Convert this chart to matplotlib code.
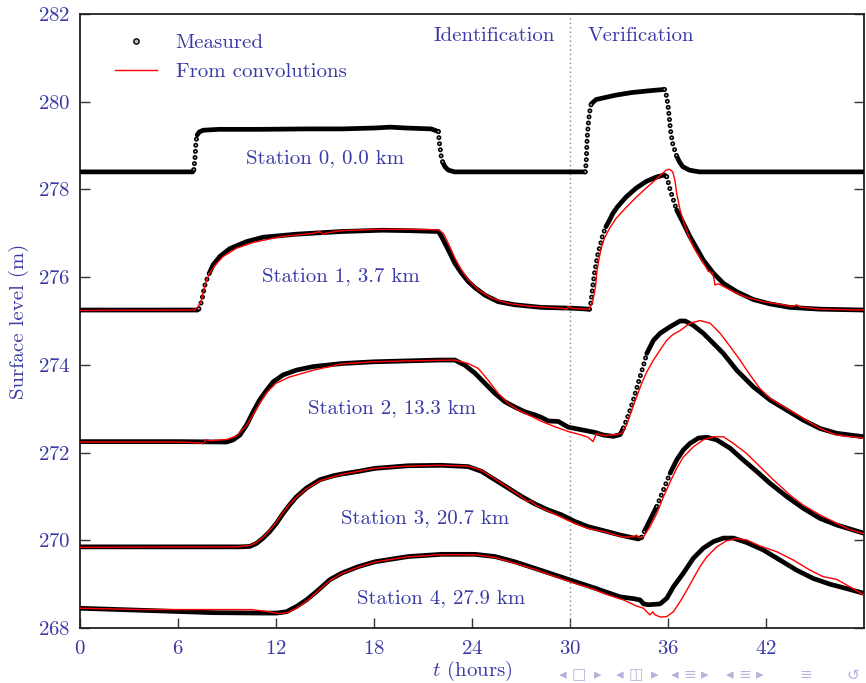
import numpy as np
import matplotlib
matplotlib.use("Agg")
import matplotlib.pyplot as plt
from matplotlib.lines import Line2D

plt.rcParams['font.family'] = ['cmr10', 'DejaVu Sans']
plt.rcParams['mathtext.fontset'] = 'cm'
plt.rcParams['axes.unicode_minus'] = False
plt.rcParams['axes.formatter.use_mathtext'] = True
plt.rcParams['lines.scale_dashes'] = False

BLUE = '#3a3aa6'
STEEP = 0.8  # m/h, above this the measured samples show as separate dots

# (time in hours, surface level in m)
station0_meas = [(0, 278.40), (6.90, 278.40), (6.97, 278.45), (7.05, 278.76), (7.10, 279.08),
                 (7.17, 279.24), (7.30, 279.31), (7.55, 279.35), (8.5, 279.37), (11, 279.37),
                 (14, 279.38), (16, 279.38), (18, 279.40), (19, 279.42), (20, 279.40), (21.5, 279.38),
                 (21.94, 279.32), (22.0, 279.07), (22.08, 278.86), (22.12, 278.73), (22.2, 278.63),
                 (22.34, 278.52), (22.55, 278.44), (22.95, 278.40), (24, 278.40), (30.93, 278.40),
                 (30.99, 278.60), (31.05, 279.18), (31.15, 279.61), (31.24, 279.85), (31.3, 279.95),
                 (31.6, 280.05), (32.8, 280.15), (33.8, 280.21), (34.86, 280.25), (35.78, 280.28),
                 (35.88, 280.18), (36.0, 279.92), (36.09, 279.60), (36.15, 279.36), (36.23, 279.17),
                 (36.29, 279.04), (36.39, 278.92), (36.53, 278.76), (36.7, 278.63), (36.9, 278.52),
                 (37.31, 278.44), (37.92, 278.40), (48, 278.40)]

station1_meas = [(0, 275.25), (7.20, 275.25), (7.28, 275.28), (7.44, 275.44), (7.54, 275.63),
                 (7.65, 275.82), (7.79, 275.97), (7.95, 276.12), (8.15, 276.28), (8.56, 276.47),
                 (9.17, 276.65), (10.2, 276.81), (11.21, 276.91), (13.25, 276.98), (16.0, 277.04),
                 (18.5, 277.07), (20.1, 277.06), (21.94, 277.04), (22.14, 276.92), (22.55, 276.62),
                 (22.96, 276.31), (23.36, 276.09), (23.77, 275.90), (24.18, 275.76), (24.79, 275.59),
                 (25.6, 275.44), (26.62, 275.37), (28.26, 275.31), (30.29, 275.29), (31.11, 275.27),
                 (31.19, 275.27), (31.29, 275.44), (31.39, 275.78), (31.5, 276.09), (31.6, 276.31),
                 (31.7, 276.51), (31.8, 276.66), (31.91, 276.81), (32.0, 276.96), (32.2, 277.15),
                 (32.42, 277.30), (32.62, 277.45), (32.92, 277.61), (33.44, 277.83), (34.05, 278.03),
                 (34.66, 278.18), (35.27, 278.28), (35.78, 278.33), (35.92, 278.29), (36.03, 278.14),
                 (36.13, 277.99), (36.33, 277.76), (36.53, 277.53), (36.94, 277.23), (37.35, 276.92),
                 (37.75, 276.66), (38.16, 276.39), (38.78, 276.09), (39.39, 275.86), (40.2, 275.67),
                 (41.22, 275.49), (42.24, 275.39), (43.46, 275.31), (45.3, 275.27), (48, 275.25)]

station1_conv = [(0, 275.24), (7.03, 275.25), (7.24, 275.33), (7.44, 275.48), (7.58, 275.70),
                 (7.75, 275.94), (8.05, 276.16), (8.36, 276.31), (8.76, 276.47), (9.58, 276.66),
                 (10.6, 276.79), (12.23, 276.92), (14.27, 277.0), (14.68, 277.04), (14.88, 276.98),
                 (15.09, 277.01), (16.02, 277.06), (18.06, 277.09), (20.1, 277.09), (21.94, 277.08),
                 (22.24, 277.00), (22.55, 276.77), (22.96, 276.43), (23.36, 276.16), (23.77, 275.94),
                 (24.38, 275.71), (25.2, 275.52), (26.22, 275.40), (27.44, 275.34), (28.67, 275.31),
                 (29.48, 275.29), (29.79, 275.27), (29.89, 275.33), (30.09, 275.29), (31.11, 275.27),
                 (31.19, 275.28), (31.39, 275.44), (31.56, 275.78), (31.66, 276.16), (31.76, 276.39),
                 (31.91, 276.66), (32.11, 276.89), (32.42, 277.11), (32.82, 277.34), (33.44, 277.59),
                 (34.05, 277.82), (34.66, 278.03), (35.27, 278.23), (35.68, 278.37), (35.88, 278.44),
                 (36.09, 278.46), (36.29, 278.40), (36.43, 278.20), (36.53, 277.91), (36.74, 277.53),
                 (37.05, 277.15), (37.35, 276.85), (37.66, 276.62), (37.97, 276.43), (38.27, 276.26),
                 (38.47, 276.13), (38.67, 276.11), (38.78, 276.02), (38.88, 275.82), (39.08, 275.85),
                 (39.39, 275.79), (40.0, 275.67), (40.81, 275.54), (41.83, 275.44), (43.06, 275.37),
                 (43.56, 275.33), (43.77, 275.35), (43.87, 275.37), (44.07, 275.32), (45.3, 275.27),
                 (48, 275.25)]

station2_meas = [(0, 272.25), (6.12, 272.25), (8.97, 272.24), (9.38, 272.29), (9.79, 272.40),
                 (10.2, 272.63), (10.6, 272.93), (11.0, 273.20), (11.42, 273.42), (11.82, 273.61),
                 (12.43, 273.77), (13.25, 273.88), (14.27, 273.96), (16.02, 274.03), (18, 274.07),
                 (20, 274.09), (22.0, 274.11), (22.95, 274.11), (23.57, 273.99), (24.18, 273.81),
                 (24.79, 273.58), (25.4, 273.35), (26.01, 273.16), (26.62, 273.04), (27.23, 272.93),
                 (27.85, 272.86), (28.26, 272.80), (28.67, 272.72), (29.28, 272.71), (29.89, 272.58),
                 (30.7, 272.52), (31.52, 272.46), (32.05, 272.40), (32.66, 272.37), (33.07, 272.41),
                 (33.27, 272.56), (33.47, 272.75), (33.68, 272.97), (33.88, 273.20), (34.08, 273.46),
                 (34.29, 273.73), (34.5, 273.99), (34.7, 274.26), (35.11, 274.56), (35.52, 274.72),
                 (36.13, 274.87), (36.74, 275.0), (37.05, 275.0), (37.55, 274.90), (38.16, 274.72),
                 (38.78, 274.49), (39.39, 274.26), (40.2, 273.88), (41.22, 273.50), (42.24, 273.20),
                 (43.26, 272.97), (44.28, 272.74), (45.3, 272.55), (46.32, 272.44), (48, 272.36)]

station2_conv = [(0, 272.24), (6.1, 272.24), (7.4, 272.22), (7.55, 272.20), (7.7, 272.29),
                 (8.0, 272.27), (9.0, 272.30), (9.6, 272.38), (10.2, 272.62), (10.8, 273.0),
                 (11.4, 273.36), (12.0, 273.58), (12.8, 273.72), (14.3, 273.88), (16.0, 274.02),
                 (18.0, 274.07), (20.0, 274.09), (22.95, 274.11), (23.77, 274.03), (24.38, 273.92),
                 (24.99, 273.65), (25.6, 273.35), (26.22, 273.12), (26.83, 272.97), (27.44, 272.86),
                 (28.26, 272.71), (29.07, 272.59), (29.89, 272.48), (30.7, 272.40), (31.11, 272.35),
                 (31.41, 272.25), (31.61, 272.43), (32.05, 272.39), (32.86, 272.41), (33.17, 272.44),
                 (33.47, 272.63), (33.78, 272.97), (34.08, 273.27), (34.39, 273.58), (34.7, 273.84),
                 (35.11, 274.11), (35.52, 274.34), (35.92, 274.56), (36.23, 274.67), (36.43, 274.72),
                 (36.74, 274.78), (37.35, 274.95), (37.96, 275.01), (38.58, 274.95), (39.19, 274.72),
                 (39.8, 274.42), (40.41, 274.11), (41.02, 273.77), (41.63, 273.46), (42.24, 273.24),
                 (43.06, 273.05), (44.28, 272.78), (45.3, 272.55), (46.32, 272.40), (48, 272.33)]

station3_meas = [(0, 269.85), (9.79, 269.85), (10.4, 269.86), (10.81, 269.93), (11.21, 270.05),
                 (11.62, 270.20), (12.03, 270.39), (12.43, 270.61), (12.84, 270.81), (13.25, 270.99),
                 (13.86, 271.19), (14.68, 271.38), (15.5, 271.47), (16.02, 271.51), (17.04, 271.57),
                 (18.06, 271.64), (20.1, 271.70), (22.14, 271.71), (23.77, 271.68), (24.59, 271.57),
                 (25.4, 271.38), (26.22, 271.19), (27.03, 271.0), (27.85, 270.83), (28.67, 270.69),
                 (29.48, 270.58), (30.29, 270.43), (31.11, 270.31), (32.05, 270.22), (33.07, 270.12),
                 (33.68, 270.07), (34.19, 270.03), (34.39, 270.07), (34.6, 270.24), (34.91, 270.47),
                 (35.31, 270.77), (35.72, 271.15), (36.13, 271.53), (36.53, 271.83), (36.94, 272.06),
                 (37.35, 272.21), (37.86, 272.33), (38.37, 272.35), (38.98, 272.29), (39.8, 272.10),
                 (40.61, 271.83), (41.43, 271.57), (42.24, 271.30), (43.26, 271.0), (44.28, 270.73),
                 (45.3, 270.50), (46.32, 270.35), (48, 270.16)]

station3_conv = [(0, 269.84), (9.5, 269.85), (10.4, 269.88), (10.8, 269.95), (11.2, 270.07),
                 (11.6, 270.22), (12.0, 270.40), (12.4, 270.62), (12.8, 270.81), (13.3, 271.0),
                 (13.9, 271.18), (14.7, 271.36), (16.0, 271.50), (17.0, 271.57), (18.0, 271.64),
                 (20.0, 271.69), (22.0, 271.71), (23.8, 271.69), (24.6, 271.59), (25.4, 271.40),
                 (26.2, 271.20), (27.0, 271.0), (27.4, 270.88), (27.6, 270.90), (27.9, 270.80),
                 (28.7, 270.66), (29.5, 270.52), (30.3, 270.38), (31.1, 270.27), (32.05, 270.20),
                 (33.27, 270.07), (33.88, 270.08), (34.08, 270.12), (34.25, 270.05), (34.5, 270.08),
                 (34.9, 270.31), (35.31, 270.61), (35.72, 270.99), (36.13, 271.33), (36.53, 271.64),
                 (36.94, 271.90), (37.55, 272.13), (38.16, 272.29), (38.78, 272.36), (39.39, 272.36),
                 (40.0, 272.21), (40.81, 271.98), (41.63, 271.68), (42.45, 271.38), (43.47, 271.03),
                 (44.28, 270.80), (45.3, 270.58), (46.32, 270.39), (47.14, 270.24), (48, 270.15)]

station4_meas = [(0, 268.45), (4.08, 268.40), (8.15, 268.35), (11.21, 268.34), (12.03, 268.34),
                 (12.64, 268.37), (13.25, 268.49), (13.86, 268.64), (14.48, 268.83), (15.29, 269.10),
                 (16.02, 269.25), (17.04, 269.40), (18.06, 269.51), (20.1, 269.63), (22.14, 269.68),
                 (24.18, 269.68), (25.4, 269.63), (26.62, 269.51), (27.85, 269.36), (29.07, 269.21),
                 (30.29, 269.06), (31.52, 268.91), (32.05, 268.84), (33.07, 268.71), (33.88, 268.67),
                 (34.29, 268.64), (34.5, 268.55), (34.8, 268.53), (35.52, 268.55), (35.93, 268.68),
                 (36.33, 268.94), (36.94, 269.25), (37.55, 269.59), (38.16, 269.82), (38.78, 269.97),
                 (39.39, 270.05), (40.0, 270.05), (40.81, 269.95), (41.83, 269.78), (42.85, 269.55),
                 (43.87, 269.32), (44.89, 269.13), (45.91, 269.0), (46.93, 268.90), (48, 268.79)]

station4_conv = [(0, 268.45), (4.0, 268.42), (8.0, 268.42), (10.5, 268.42), (11.4, 268.38),
                 (12.2, 268.33), (12.7, 268.35), (13.3, 268.46), (13.9, 268.62), (14.5, 268.82),
                 (15.3, 269.08), (16.0, 269.24), (17.0, 269.38), (18.0, 269.50), (20.0, 269.62),
                 (22.0, 269.67), (24.2, 269.67), (25.4, 269.61), (26.6, 269.48), (27.9, 269.33),
                 (29.1, 269.17), (30.3, 269.02), (31.5, 268.88), (32.05, 268.79), (33.27, 268.64),
                 (34.08, 268.50), (34.5, 268.45), (34.7, 268.37), (34.9, 268.30), (35.06, 268.37),
                 (35.21, 268.30), (35.52, 268.25), (35.92, 268.26), (36.33, 268.37), (36.74, 268.60),
                 (37.15, 268.86), (37.55, 269.13), (37.96, 269.40), (38.37, 269.62), (38.98, 269.85),
                 (39.59, 269.99), (40.2, 270.04), (40.81, 270.01), (41.63, 269.87), (42.65, 269.74),
                 (43.67, 269.55), (44.69, 269.32), (45.5, 269.17), (46.32, 269.11), (47.14, 268.94),
                 (48, 268.75)]

measured = [station0_meas, station1_meas, station2_meas, station3_meas, station4_meas]
convolved = [station1_conv, station2_conv, station3_conv, station4_conv]

station_labels = ["Station 0, 0.0 km", "Station 1, 3.7 km", "Station 2, 13.3 km",
                  "Station 3, 20.7 km", "Station 4, 27.9 km"]
label_pos = [(15.0, 278.72), (16.0, 276.03), (19.1, 273.02), (21.1, 270.51), (22.1, 268.69)]

t_split = 30
x_ticks = [0, 6, 12, 18, 24, 30, 36, 42]
y_ticks = [268, 270, 272, 274, 276, 278, 280, 282]

# beamer navigation symbols, (pixel x, glyph)
nav_symbols = [(563, "◂"), (579, "□"), (598, "▸"), (620, "◂"), (636, "◫"), (655, "▸"),
               (675, "◂"), (690, "≡"), (705, "▸"), (730, "◂"), (745, "≡"), (760, "▸"),
               (806, "≡"), (853, "↺")]


def draw_measured(ax, pts):
    t, y = np.array(pts).T
    steep = np.abs(np.diff(y) / np.diff(t)) > STEEP
    start = 0
    for i in range(1, len(steep) + 1):
        if i == len(steep) or steep[i] != steep[start]:
            tt, yy = t[start:i + 1], y[start:i + 1]
            if steep[start]:
                ax.plot(tt, yy, color='black', lw=3.6, ls=(0, (0.01, 4.4)),
                        dash_capstyle='round', zorder=3)
                ax.plot(tt, yy, color='#bdbdbd', lw=1.3, ls=(0, (0.01, 4.4)),
                        dash_capstyle='round', zorder=3.1)
            else:
                ax.plot(tt, yy, color='black', lw=3.4, solid_capstyle='round',
                        solid_joinstyle='round', zorder=3)
            start = i


fig = plt.figure(figsize=(8.66, 6.83), dpi=100)
ax = fig.add_axes([80 / 866, 1 - 628 / 683, 784 / 866, 614 / 683])

for pts in measured:
    draw_measured(ax, pts)
for pts in convolved:
    t, y = np.array(pts).T
    ax.plot(t, y, color='#ff0000', lw=1.0, zorder=4)

ax.axvline(t_split, color='#8c8c8c', lw=1.0, ls=(0, (1, 2.2)), zorder=2)

for txt, (x, y) in zip(station_labels, label_pos):
    ax.text(x, y, txt, ha='center', va='center', fontsize=15, color=BLUE)
ax.text(29.05, 281.5, "Identification", ha='right', va='center', fontsize=15, color=BLUE)
ax.text(31.1, 281.5, "Verification", ha='left', va='center', fontsize=15, color=BLUE)

ax.set_xlim(0, 48)
ax.set_ylim(268, 282)
ax.set_xticks(x_ticks)
ax.set_yticks(y_ticks)
ax.tick_params(direction='in', length=7, width=1, right=True, top=False,
               labelsize=15, labelcolor=BLUE, color='#333333')
ax.tick_params(axis='y', pad=7)
ax.tick_params(axis='x', pad=9)
for s in ax.spines.values():
    s.set_linewidth(1.3)
    s.set_color('#222222')

ax.set_xlabel("$t$ (hours)", fontsize=15, color=BLUE, labelpad=0.5)
ax.set_ylabel("Surface level (m)", fontsize=15, color=BLUE, labelpad=6)

handles = [Line2D([], [], marker='o', ls='none', mfc='#bdbdbd', mec='black', ms=3.8, mew=1.0),
           Line2D([], [], color='#ff0000', lw=1.0)]
ax.legend(handles, ["Measured", "From convolutions"], loc='upper left', frameon=False,
          fontsize=15, labelcolor=BLUE, handlelength=2.0, handletextpad=0.9,
          labelspacing=0.5, borderpad=0.4, borderaxespad=0.0,
          bbox_to_anchor=(27 / 784, 1 - 11 / 614))

for px, glyph in nav_symbols:
    fig.text(px / 866, 1 - 675 / 683, glyph, fontsize=11, color='#b4b4da',
             va='center', ha='center', family='DejaVu Sans')

fig.savefig("out.png", dpi=100)
